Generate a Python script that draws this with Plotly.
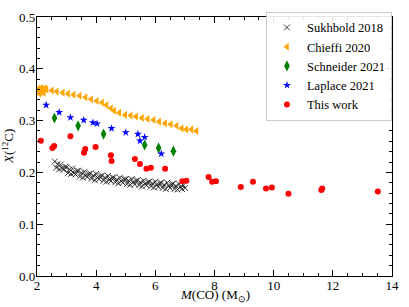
import plotly.graph_objects as go

# Sukhbold 2018
suk_x = [2.60, 2.65, 2.70, 2.75, 2.80, 2.85, 2.90, 2.95, 3.00, 3.05, 3.10, 3.15, 3.20, 3.25, 3.30,
         3.35, 3.40, 3.45, 3.50, 3.55, 3.60, 3.65, 3.70, 3.75, 3.80, 3.85, 3.90, 3.95, 4.00, 4.05,
         4.10, 4.15, 4.20, 4.25, 4.30, 4.35, 4.40, 4.45, 4.50, 4.55, 4.60, 4.65, 4.70, 4.75, 4.80,
         4.85, 4.90, 4.95, 5.00, 5.05, 5.10, 5.15, 5.20, 5.25, 5.30, 5.35, 5.40, 5.45, 5.50, 5.55,
         5.60, 5.65, 5.70, 5.75, 5.80, 5.85, 5.90, 5.95, 6.00, 6.05, 6.10, 6.15, 6.20, 6.25, 6.30,
         6.35, 6.40, 6.45, 6.50, 6.55, 6.60, 6.65, 6.70, 6.75, 6.80, 6.85, 6.90, 6.95, 7.00]
suk_y = [0.221, 0.209, 0.216, 0.206, 0.215, 0.208, 0.205, 0.211, 0.210, 0.199, 0.206, 0.197, 0.207, 0.199, 0.196,
         0.203, 0.203, 0.192, 0.199, 0.190, 0.201, 0.194, 0.191, 0.197, 0.198, 0.188, 0.194, 0.185, 0.197, 0.190,
         0.187, 0.193, 0.194, 0.184, 0.190, 0.182, 0.193, 0.186, 0.183, 0.190, 0.190, 0.181, 0.186, 0.179, 0.190,
         0.183, 0.180, 0.187, 0.187, 0.178, 0.184, 0.176, 0.187, 0.181, 0.177, 0.184, 0.185, 0.175, 0.181, 0.173,
         0.184, 0.178, 0.175, 0.181, 0.182, 0.173, 0.179, 0.171, 0.182, 0.176, 0.172, 0.179, 0.180, 0.170, 0.176,
         0.168, 0.180, 0.174, 0.170, 0.177, 0.178, 0.168, 0.174, 0.167, 0.178, 0.172, 0.168, 0.175, 0.170]

# Chieffi 2020
chi_x = [2.02, 2.05, 2.08, 2.10, 2.12, 2.15, 2.18, 2.20, 2.23, 2.27, 2.32, 2.50, 2.67, 2.87, 3.05,
         3.24, 3.44, 3.64, 3.83, 4.02, 4.20, 4.35, 4.50, 4.61, 4.78, 4.98, 5.17, 5.35, 5.55, 5.74,
         5.94, 6.13, 6.33, 6.52, 6.72, 6.89, 7.05, 7.22, 7.39]
chi_y = [0.356, 0.362, 0.352, 0.360, 0.355, 0.363, 0.357, 0.361, 0.354, 0.362, 0.360, 0.358, 0.356, 0.354, 0.352,
         0.350, 0.348, 0.345, 0.341, 0.338, 0.335, 0.330, 0.324, 0.319, 0.315, 0.311, 0.310, 0.308, 0.305, 0.303,
         0.301, 0.298, 0.295, 0.293, 0.290, 0.285, 0.283, 0.283, 0.280]

# Schneider 2021
sch_x = [2.59, 3.39, 4.25, 5.64, 6.11, 6.61]
sch_y = [0.305, 0.290, 0.274, 0.253, 0.247, 0.241]

# Laplace 2021
lap_x = [2.31, 2.75, 3.13, 3.58, 3.89, 4.03, 4.52, 5.00, 5.41, 5.48, 5.64, 6.20]
lap_y = [0.330, 0.316, 0.306, 0.301, 0.296, 0.294, 0.285, 0.277, 0.274, 0.261, 0.268, 0.236]

# This work
tw_x = [2.13, 2.52, 2.58, 3.13, 3.59, 3.63, 3.98, 4.50, 4.52, 5.31, 5.48, 5.70, 5.85, 6.33, 6.91, 7.05,
        7.80, 7.92, 8.05, 8.89, 9.30, 9.74, 9.94, 10.50, 11.61, 11.64, 13.52]
tw_y = [0.261, 0.247, 0.251, 0.270, 0.238, 0.245, 0.249, 0.233, 0.222, 0.226, 0.216, 0.207, 0.209, 0.207, 0.183, 0.184,
        0.191, 0.182, 0.183, 0.172, 0.182, 0.169, 0.171, 0.159, 0.166, 0.169, 0.163]

SERIF = "Liberation Serif, Times New Roman, serif"

fig = go.Figure()
fig.add_trace(go.Scatter(x=suk_x, y=suk_y, mode="markers", name="Sukhbold 2018",
                         marker=dict(symbol="x-thin-open", size=6, color="rgba(20,20,20,0.8)",
                                     line=dict(width=1, color="rgba(20,20,20,0.8)"))))
fig.add_trace(go.Scatter(x=chi_x, y=chi_y, mode="markers", name="Chieffi 2020",
                         marker=dict(symbol="triangle-left", size=7, color="orange")))
fig.add_trace(go.Scatter(x=sch_x, y=sch_y, mode="markers", name="Schneider 2021",
                         marker=dict(symbol="diamond-tall", size=8, color="green")))
fig.add_trace(go.Scatter(x=lap_x, y=lap_y, mode="markers", name="Laplace 2021",
                         marker=dict(symbol="star", size=6, color="blue")))
fig.add_trace(go.Scatter(x=tw_x, y=tw_y, mode="markers", name="This work",
                         marker=dict(symbol="circle", size=6, color="red")))

axis_common = dict(showline=True, linecolor="black", linewidth=1.3, mirror="ticks",
                   ticks="inside", ticklen=6, tickwidth=1, tickcolor="black",
                   showgrid=False, zeroline=False,
                   tickfont=dict(family=SERIF, size=13, color="black"))

fig.update_xaxes(range=[2, 14], dtick=2, tick0=2, ticklabelstandoff=-3,
                 minor=dict(ticks="inside", dtick=0.5, ticklen=3, tickcolor="black", showgrid=False),
                 **axis_common)
fig.update_yaxes(range=[0, 0.5], dtick=0.1, tick0=0, tickformat=".1f", ticklabelstandoff=-2,
                 minor=dict(ticks="inside", dtick=0.02, ticklen=3, tickcolor="black", showgrid=False),
                 **axis_common)

fig.add_annotation(text="<i>M</i>(CO) (M<sub>⊙</sub>)", xref="paper", yref="paper",
                   x=0.5, y=-0.077, xanchor="center", yanchor="middle", showarrow=False,
                   font=dict(family=SERIF, size=13, color="black"))
fig.add_annotation(text="<i>X</i>(<sup>12</sup>C)", xref="paper", yref="paper",
                   x=-0.083, y=0.5, xanchor="center", yanchor="middle", showarrow=False, textangle=-90,
                   font=dict(family=SERIF, size=13, color="black"))

fig.update_layout(width=409, height=307, margin=dict(l=37, r=12, t=10, b=31),
                  plot_bgcolor="white", paper_bgcolor="white",
                  font=dict(family=SERIF, size=13, color="black"),
                  legend=dict(x=0.645, y=1.02, xanchor="left", yanchor="top",
                              bgcolor="rgba(255,255,255,0.9)", bordercolor="#cccccc", borderwidth=1,
                              font=dict(family=SERIF, size=12.5, color="black"),
                              tracegroupgap=0, itemwidth=30))

fig.write_html("out.html", config={"displayModeBar": False},
               post_script="document.body.style.margin='0';document.body.style.overflow='hidden';")
